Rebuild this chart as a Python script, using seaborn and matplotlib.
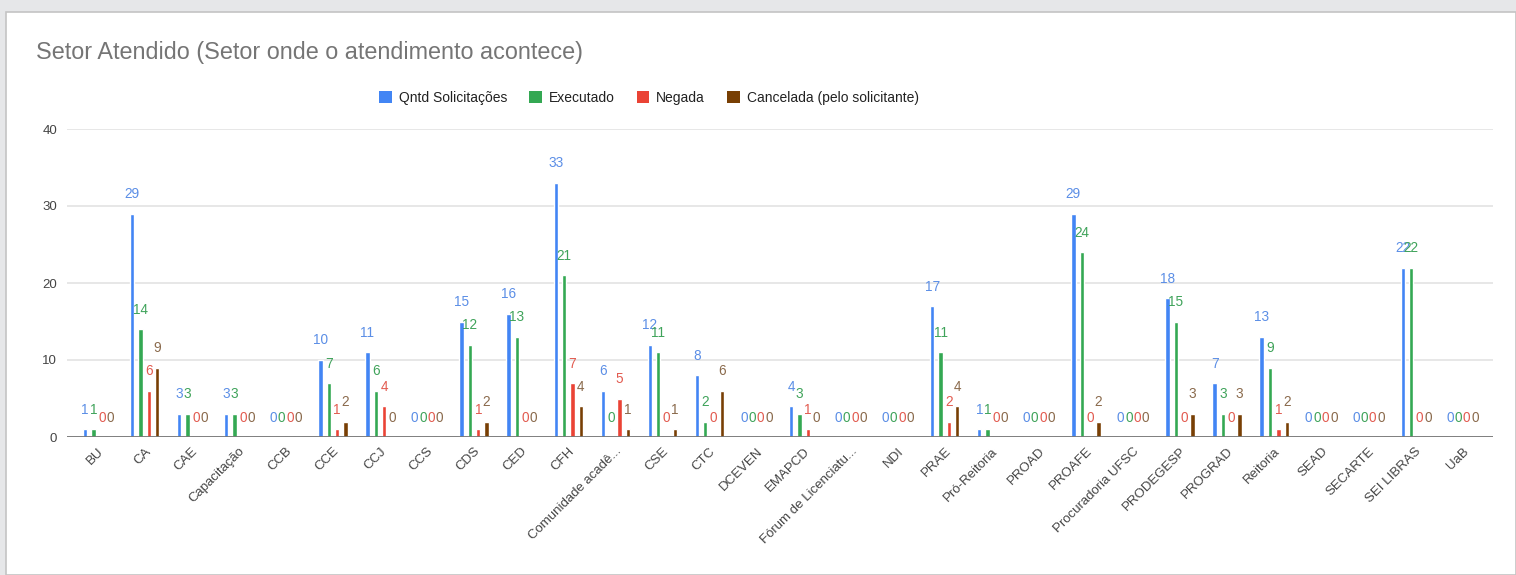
import matplotlib
matplotlib.use("Agg")
import matplotlib.pyplot as plt
from matplotlib.patches import Rectangle, Patch
import seaborn as sns
import pandas as pd

# Sectors served and request counts per status
setores = [
    "BU", "CA", "CAE", "Capacitação", "CCB", "CCE", "CCJ", "CCS", "CDS", "CED",
    "CFH", "Comunidade acadê...", "CSE", "CTC", "DCEVEN", "EMAPCD",
    "Fórum de Licenciatu...", "NDI", "PRAE", "Pró-Reitoria", "PROAD", "PROAFE",
    "Procuradoria UFSC", "PRODEGESP", "PROGRAD", "Reitoria", "SEAD", "SECARTE",
    "SEI LIBRAS", "UaB",
]
solicitacoes = [1, 29, 3, 3, 0, 10, 11, 0, 15, 16, 33, 6, 12, 8, 0, 4, 0, 0, 17, 1, 0, 29, 0, 18, 7, 13, 0, 0, 22, 0]
executado = [1, 14, 3, 3, 0, 7, 6, 0, 12, 13, 21, 0, 11, 2, 0, 3, 0, 0, 11, 1, 0, 24, 0, 15, 3, 9, 0, 0, 22, 0]
negada = [0, 6, 0, 0, 0, 1, 4, 0, 1, 0, 7, 5, 0, 0, 0, 1, 0, 0, 2, 0, 0, 0, 0, 0, 0, 1, 0, 0, 0, 0]
cancelada = [0, 9, 0, 0, 0, 2, 0, 0, 2, 0, 4, 1, 1, 6, 0, 0, 0, 0, 4, 0, 0, 2, 0, 3, 3, 2, 0, 0, 0, 0]

series_names = ["Qntd Solicitações", "Executado", "Negada", "Cancelada (pelo solicitante)"]
series_values = [solicitacoes, executado, negada, cancelada]
colors = ["#4285F4", "#34A853", "#EA4335", "#783F04"]
label_colors = ["#5b8ee6", "#3fa35a", "#e25b50", "#8a6a4c"]

df = pd.DataFrame(
    [(s, name, v) for name, vals in zip(series_names, series_values) for s, v in zip(setores, vals)],
    columns=["setor", "serie", "valor"],
)

sns.set_style("white")
plt.rcParams["font.family"] = ["Liberation Sans", "DejaVu Sans"]

fig = plt.figure(figsize=(15.16, 5.75), dpi=100)
fig.patch.set_facecolor("#e6e7e9")
# white card with thin border
card = Rectangle((6 / 1516, 0), 1 - 6 / 1516, 1 - 12 / 575, transform=fig.transFigure,
                 facecolor="white", edgecolor="#c4c4c4", linewidth=1.2, zorder=-5)
fig.patches.append(card)

ax = fig.add_axes([67 / 1516, 1 - 437 / 575, (1493 - 67) / 1516, (437 - 129) / 575])
ax.set_zorder(2)
ax.set_facecolor("none")

sns.barplot(data=df, x="setor", y="valor", hue="serie", hue_order=series_names,
            palette=colors, width=0.71, gap=0.48, ax=ax, legend=False,
            saturation=1, errorbar=None, zorder=3)

for cont, lc in zip(ax.containers, label_colors):
    ax.bar_label(cont, padding=9, color=lc, fontsize=9.8, zorder=4)

ax.set_xlim(-0.65, len(setores) - 1 + 0.65)
ax.set_ylim(0, 40)
ax.set_yticks([0, 10, 20, 30, 40])
ax.yaxis.grid(True, color="#e3e3e3", linewidth=1.2, zorder=0)
ax.set_axisbelow(True)
ax.axhline(0, color="#777777", linewidth=1.3, zorder=5)
for sp in ax.spines.values():
    sp.set_visible(False)
ax.set_xlabel("")
ax.set_ylabel("")
ax.tick_params(axis="y", length=0, pad=7, labelsize=9.5, labelcolor="#444444")
ax.tick_params(axis="x", length=0, pad=6, labelsize=9.5, labelcolor="#444444")
plt.setp(ax.get_xticklabels(), rotation=45, ha="right", rotation_mode="anchor")

fig.text(36 / 1516, 1 - 53 / 575, "Setor Atendido (Setor onde o atendimento acontece)",
         fontsize=16.8, color="#757575", va="center", ha="left")

handles = [Patch(facecolor=c, edgecolor="none") for c in colors]
fig.legend(handles, series_names, loc="center", bbox_to_anchor=(649 / 1516, 1 - 98 / 575),
           ncol=4, frameon=False, fontsize=10, handlelength=0.9, handleheight=0.9,
           handletextpad=0.5, columnspacing=1.6, labelcolor="#222222")

fig.savefig("out.png", dpi=100, facecolor=fig.get_facecolor())
